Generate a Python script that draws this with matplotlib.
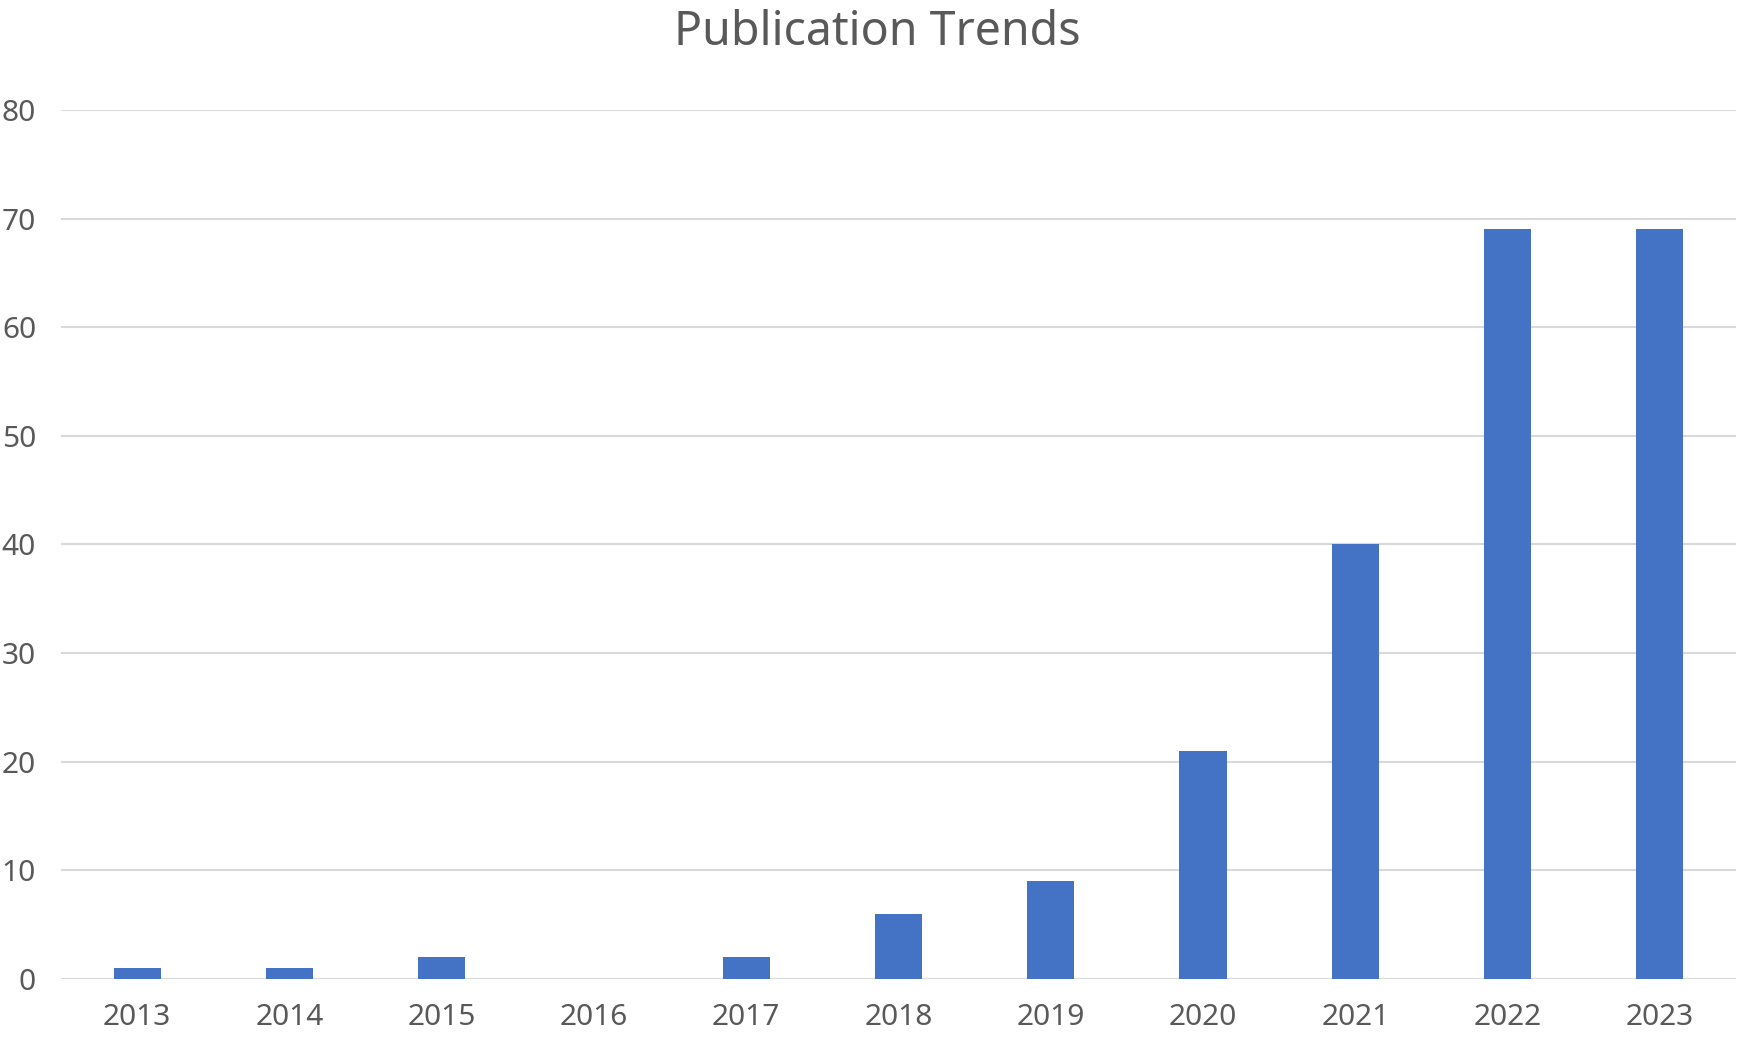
import matplotlib
matplotlib.use("Agg")
import matplotlib.pyplot as plt

years = ["2013", "2014", "2015", "2016", "2017", "2018", "2019", "2020", "2021", "2022", "2023"]
counts = [1, 1, 2, 0, 2, 6, 9, 21, 40, 69, 69]
yticks = [0, 10, 20, 30, 40, 50, 60, 70, 80]

plt.rcParams['font.family'] = ['Noto Sans', 'DejaVu Sans']

W, H = 1748, 1042
fig = plt.figure(figsize=(W / 100, H / 100), dpi=100)
left, right, bottom, top = 61, 1736, 979, 110
ax = fig.add_axes([left / W, 1 - bottom / H, (right - left) / W, (bottom - top) / H])

x = list(range(len(years)))
ax.bar(x, counts, width=0.31, color="#4472C4", zorder=3)

ax.set_xlim(-0.5, len(years) - 0.5)
ax.set_ylim(0, 80)
ax.set_yticks(yticks)
ax.set_yticklabels([str(v) for v in yticks])
ax.set_xticks(x)
ax.set_xticklabels(years)

for s in ax.spines.values():
    s.set_visible(False)
ax.yaxis.grid(True, color="#D9D9D9", linewidth=1.5, zorder=0)
ax.set_axisbelow(True)
ax.tick_params(axis='both', length=0, labelsize=21.5, colors="#595959")
ax.tick_params(axis='y', pad=18)
ax.tick_params(axis='x', pad=17)

fig.text(877 / W, 1 - 45 / H, "Publication Trends", ha='center', va='baseline',
         fontsize=33.5, color="#595959", fontweight='light')

fig.savefig("out.png", dpi=100, facecolor="white")
